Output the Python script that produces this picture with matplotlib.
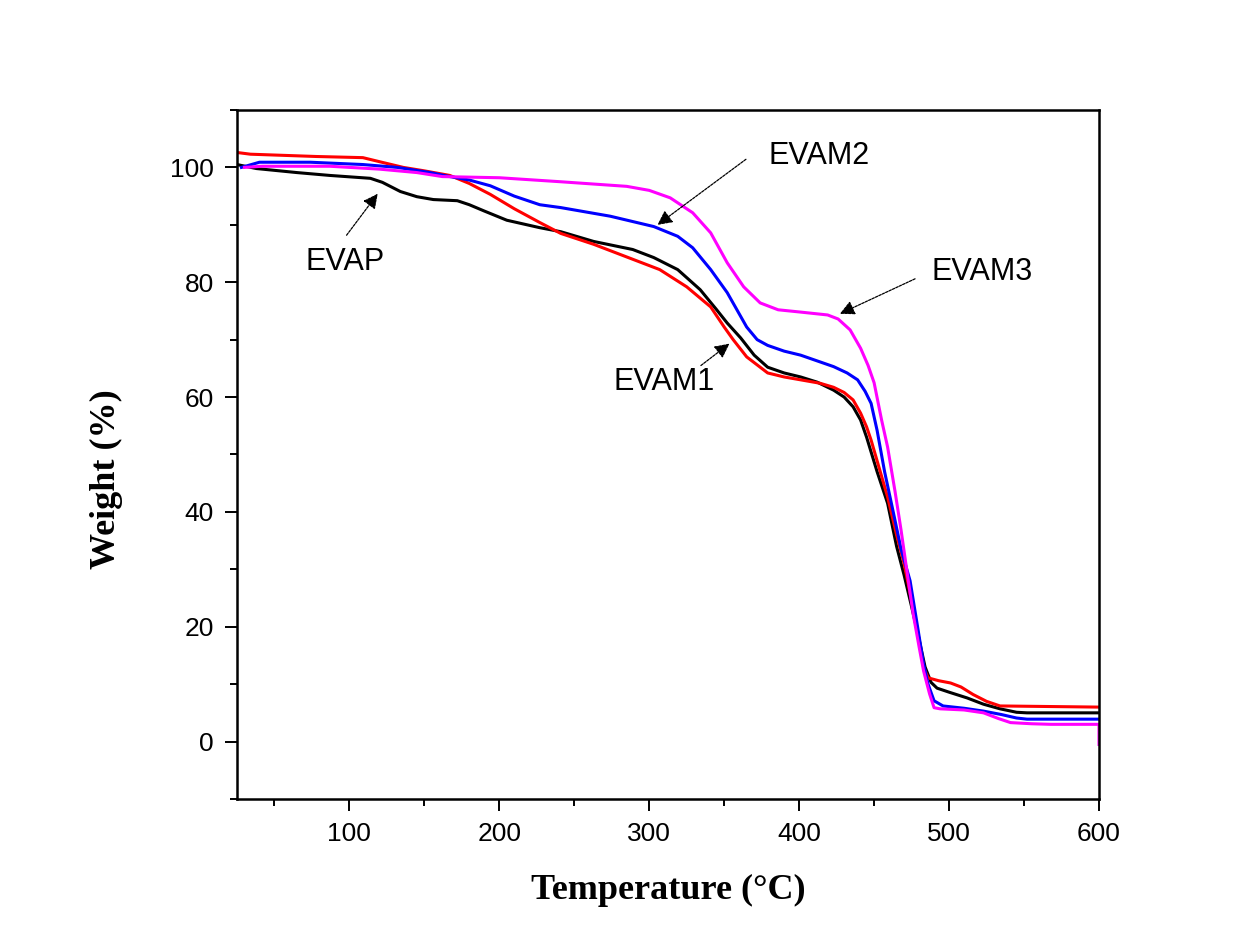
import matplotlib.pyplot as plt

# TGA curves
evap_x = [25, 38, 65, 87, 114, 122, 128, 134, 145, 156, 172, 180, 190, 205, 227, 241, 263, 289, 303, 319, 334, 345, 352, 361, 370, 379, 390, 401, 412, 423, 430, 436, 441, 445, 452, 459, 465, 470, 475, 479, 484, 488, 492, 500, 512, 523, 534, 545, 552, 600]
evap_y = [100.5, 99.8, 99.1, 98.6, 98.1, 97.4, 96.6, 95.8, 94.9, 94.4, 94.2, 93.5, 92.4, 90.8, 89.5, 88.8, 87.1, 85.7, 84.3, 82.2, 78.7, 75.2, 72.9, 70.3, 67.3, 65.2, 64.2, 63.5, 62.6, 61.2, 60.0, 58.3, 56.0, 53.0, 47.0, 41.5, 34.0, 29.0, 23.5, 19.0, 13.0, 10.3, 9.3, 8.6, 7.6, 6.5, 5.7, 5.1, 5.0, 5.0]

evam1_x = [25, 34, 78, 109, 120, 136, 150, 167, 180, 194, 210, 227, 241, 263, 289, 307, 325, 341, 350, 356, 365, 379, 390, 401, 414, 423, 430, 436, 441, 445, 448, 453, 459, 465, 470, 475, 479, 483, 486, 493, 501, 508, 516, 525, 534, 600]
evam1_y = [102.6, 102.3, 101.9, 101.7, 101.0, 100.0, 99.4, 98.6, 97.2, 95.3, 92.8, 90.4, 88.5, 86.6, 84.0, 82.2, 79.2, 75.7, 72.2, 70.0, 67.0, 64.2, 63.5, 63.0, 62.4, 61.7, 60.8, 59.5, 57.2, 54.8, 52.5, 48.0, 42.6, 36.0, 31.0, 24.5, 19.3, 12.9, 11.1, 10.6, 10.2, 9.5, 8.2, 7.0, 6.2, 6.0]

evam2_x = [28, 32, 40, 74, 109, 132, 154, 165, 180, 194, 210, 227, 241, 274, 303, 319, 329, 341, 352, 365, 372, 379, 390, 401, 412, 423, 432, 439, 444, 448, 452, 457, 463, 468, 474, 479, 483, 486, 490, 496, 510, 523, 535, 545, 552, 600]
evam2_y = [100.0, 100.3, 100.9, 100.9, 100.5, 100.0, 99.1, 98.5, 97.8, 96.8, 95.0, 93.5, 93.0, 91.5, 89.7, 88.0, 86.0, 82.2, 78.2, 72.2, 70.0, 69.0, 68.0, 67.3, 66.3, 65.3, 64.2, 63.0, 61.0, 58.9, 54.2, 47.0, 39.7, 33.5, 28.0, 20.0, 13.5, 10.0, 7.1, 6.2, 5.8, 5.3, 4.7, 4.1, 3.9, 3.9]

evam3_x = [30, 42, 87, 120, 145, 162, 200, 241, 285, 300, 314, 329, 341, 352, 363, 374, 386, 401, 419, 426, 434, 441, 446, 450, 455, 459, 464, 468, 472, 476, 480, 483, 487, 490, 494, 510, 523, 533, 541, 555, 568, 600, 600]
evam3_y = [100.0, 100.2, 100.2, 99.7, 99.1, 98.4, 98.2, 97.5, 96.7, 96.0, 94.7, 92.1, 88.6, 83.4, 79.2, 76.4, 75.2, 74.8, 74.3, 73.6, 71.7, 68.5, 65.5, 62.5, 56.0, 51.3, 43.5, 36.8, 29.5, 22.3, 16.5, 12.3, 8.3, 5.9, 5.7, 5.5, 5.0, 4.0, 3.3, 3.1, 3.0, 3.0, -0.5]

fig = plt.figure(figsize=(12.59, 9.49), dpi=100)
ax = fig.add_axes([0.1882, 0.1581, 0.6847, 0.726])

lw = 2.2
ax.plot(evap_x, evap_y, color="black", lw=lw)
ax.plot(evam1_x, evam1_y, color="#ff0000", lw=lw)
ax.plot(evam2_x, evam2_y, color="#0000ff", lw=lw)
ax.plot(evam3_x, evam3_y, color="#ff00ff", lw=lw)

ax.set_xlim(25, 600)
ax.set_ylim(-10, 110)
ax.set_xticks([100, 200, 300, 400, 500, 600])
ax.set_xticks([50, 150, 250, 350, 450, 550], minor=True)
ax.set_yticks([0, 20, 40, 60, 80, 100])
ax.set_yticks([-10, 10, 30, 50, 70, 90, 110], minor=True)

for s in ax.spines.values():
    s.set_linewidth(1.8)
ax.tick_params(which="major", direction="out", length=8.5, width=1.4, labelsize=19, pad=8)
ax.tick_params(which="minor", direction="out", length=5, width=1.4)
for lab in ax.get_xticklabels() + ax.get_yticklabels():
    lab.set_family("Liberation Sans")

ax.set_xlabel("Temperature (\u00b0C)", family="Liberation Serif", fontweight="bold", fontsize=26, labelpad=20)
ax.set_ylabel("Weight (%)", family="Liberation Serif", fontweight="bold", fontsize=26)
ax.yaxis.set_label_coords(-0.132, 0.464)

# annotations
arrow = dict(arrowstyle="-|>", color="black", lw=0.9, linestyle=(0, (2, 1)), mutation_scale=22)
txt = dict(family="Liberation Sans", fontsize=22, ha="center", va="center")
ax.annotate("", xy=(120, 95.8), xytext=(97, 87.8), arrowprops=arrow)
ax.text(97, 83.5, "EVAP", **txt)
ax.annotate("", xy=(304, 89.7), xytext=(366, 101.7), arrowprops=arrow)
ax.text(413, 102, "EVAM2", **txt)
ax.annotate("", xy=(425.5, 74.3), xytext=(479, 80.8), arrowprops=arrow)
ax.text(522, 81.7, "EVAM3", **txt)
ax.annotate("", xy=(355, 69.6), xytext=(333, 65.2), arrowprops=arrow)
ax.text(310, 62.6, "EVAM1", **txt)

fig.savefig("out.png", dpi=100)
